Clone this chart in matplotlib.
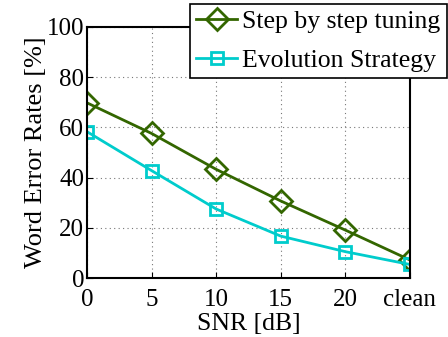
import matplotlib.pyplot as plt

snr_labels = ['0', '5', '10', '15', '20', 'clean']
step_tuning = [69.8, 57.6, 43.3, 30.7, 19.1, 7.2]
evolution = [58.3, 42.8, 27.5, 16.7, 10.5, 5.4]

plt.rcParams['font.family'] = ['Liberation Serif', 'DejaVu Serif']

fig = plt.figure(figsize=(4.48, 3.37), dpi=100)
ax = fig.add_axes([0.194, 0.175, 0.721, 0.745])

x = list(range(len(snr_labels)))
green = '#336600'
cyan = '#00cccc'
ax.plot(x, step_tuning, color=green, lw=2, marker='D', ms=11, mfc='none',
        mec=green, mew=2, label='Step by step tuning')
ax.plot(x, evolution, color=cyan, lw=2, marker='s', ms=8, mfc='none',
        mec=cyan, mew=2, label='Evolution Strategy')

ax.set_xlim(0, 5)
ax.set_ylim(0, 100)
ax.set_xticks(x)
ax.set_xticklabels(snr_labels)
ax.set_yticks([0, 20, 40, 60, 80, 100])
ax.tick_params(direction='in', labelsize=18, length=4, pad=2)
ax.tick_params(axis='x', pad=8)
ax.grid(True, linestyle=(0, (1, 3)), color='#777777', lw=0.8)
for s in ax.spines.values():
    s.set_linewidth(1.5)
ax.set_xlabel('SNR [dB]', fontsize=18.5, labelpad=1)
ax.set_ylabel('Word Error Rates [%]', fontsize=19, labelpad=0)

leg = ax.legend(loc='upper right', bbox_to_anchor=(447 / 448, 1 - 4 / 337),
                bbox_transform=fig.transFigure, fontsize=18.5, frameon=True,
                fancybox=False, edgecolor='black', framealpha=1,
                handlelength=1.6, handletextpad=0.2, borderpad=0.25,
                labelspacing=0.6, borderaxespad=0)
leg.get_frame().set_linewidth(1.2)

fig.savefig('out.png', dpi=100)
